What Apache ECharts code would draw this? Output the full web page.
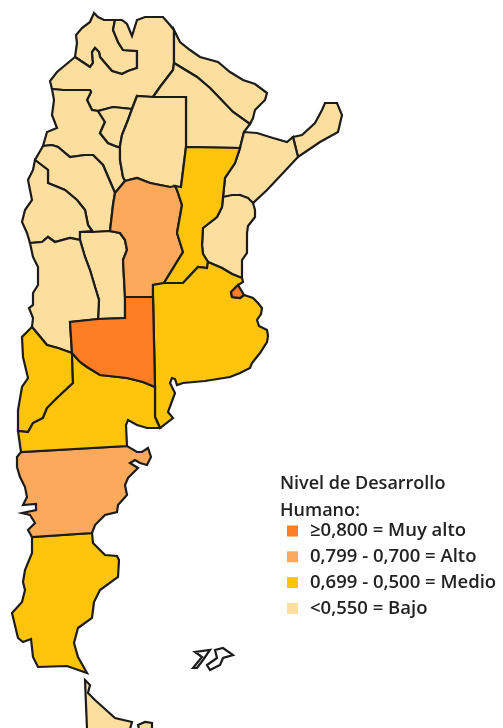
<!DOCTYPE html>
<html lang="es">
<head>
    <meta charset="UTF-8">
    <title>Nivel de Desarrollo Humano</title>
    <script src="https://cdn.jsdelivr.net/npm/echarts@6/dist/echarts.min.js"></script>
    <style>
        html, body { margin: 0; padding: 0; background: #fff; overflow: hidden; }
    </style>
</head>
<body>
<div id="main" style="width:503px;height:728px;"></div>

<script type="text/javascript">
    // niveles de la leyenda
    var niveles = ['≥0,800 = Muy alto', '0,799 - 0,700 = Alto', '0,699 - 0,500 = Medio', '<0,550 = Bajo'];
    var coloresNivel = ['#fc7e24', '#fca95c', '#fcc50b', '#fcde9f'];

    // provincia -> nivel, en el mismo orden
    var provincias = ['Jujuy', 'Salta', 'Formosa', 'Chaco', 'Misiones', 'Corrientes', 'Catamarca', 'Tucumán',
        'Santiago del Estero', 'La Rioja', 'San Juan', 'San Luis', 'Mendoza', 'Entre Ríos', 'Tierra del Fuego',
        'Córdoba', 'Santa Cruz', 'Chubut', 'Santa Fe', 'Buenos Aires', 'Neuquén', 'Río Negro', 'La Pampa', 'CABA'];
    var nivelProvincia = [3, 3, 3, 3, 3, 3, 3, 3,
        3, 3, 3, 3, 3, 3, 3,
        1, 2, 1, 2, 2, 2, 2, 0, 0];

    // contornos calcados del mapa
    var contornos = {
        'Jujuy': [[[94,13],[98,17],[104,20],[115,20],[113,30],[118,42],[123,50],[137,51],[137,68],[128,71],[122,74],[112,71],[105,63],[100,57],[99,52],[95,48],[92,52],[93,63],[90,67],[75,57],[77,43],[76,35],[82,28],[90,22]]],
        'Salta': [[[75,57],[90,67],[93,63],[92,52],[95,48],[99,52],[100,57],[105,63],[112,71],[122,74],[128,71],[137,68],[137,51],[123,50],[118,42],[113,30],[115,20],[122,20],[127,24],[132,36],[137,20],[145,17],[163,17],[170,25],[174,30],[174,63],[173,70],[160,87],[153,97],[137,96],[132,109],[113,107],[98,111],[92,110],[87,100],[91,92],[90,90],[63,90],[52,89],[50,81],[57,72]]],
        'Formosa': [[[174,30],[180,42],[190,50],[200,57],[218,62],[230,72],[243,80],[255,84],[267,93],[265,100],[255,110],[253,118],[250,124],[233,112],[210,88],[197,77],[174,63]]],
        'Chaco': [[[174,63],[197,77],[210,88],[233,112],[250,124],[244,132],[240,148],[186,147],[186,97],[153,97],[160,87],[173,70]]],
        'Misiones': [[[293,137],[302,135],[315,123],[322,110],[325,103],[337,103],[342,115],[338,132],[320,142],[298,157]]],
        'Corrientes': [[[244,132],[257,133],[273,138],[287,142],[293,137],[298,157],[283,173],[267,190],[253,203],[240,195],[223,197],[225,178],[235,163],[240,148]]],
        'Catamarca': [[[52,89],[63,90],[90,90],[91,92],[87,100],[92,110],[98,111],[105,122],[100,133],[108,143],[118,147],[120,146],[120,160],[123,177],[125,181],[115,193],[103,165],[93,155],[85,155],[70,157],[58,147],[52,145],[43,146],[47,132],[57,128],[52,115],[54,100]]],
        'Tucumán': [[[132,109],[113,107],[98,111],[105,122],[100,133],[108,143],[118,147],[120,146],[122,135],[128,120]]],
        'Santiago del Estero': [[[137,96],[153,97],[186,97],[186,147],[181,187],[170,187],[150,183],[137,178],[125,181],[123,177],[120,160],[120,146],[122,135],[128,120],[132,109]]],
        'La Rioja': [[[43,146],[52,145],[58,147],[70,157],[85,155],[93,155],[103,165],[115,193],[113,205],[110,231],[93,232],[92,231],[88,225],[85,210],[77,200],[65,190],[48,183],[48,170],[35,160]]],
        'San Juan': [[[35,160],[48,170],[48,183],[65,190],[77,200],[85,210],[88,225],[92,231],[93,232],[80,232],[80,240],[70,238],[55,242],[48,237],[42,242],[30,243],[27,233],[22,222],[25,210],[32,200],[28,180],[33,170]]],
        'San Luis': [[[80,232],[93,232],[110,231],[120,233],[125,240],[127,250],[123,260],[125,297],[125,318],[98,319],[99,300],[95,287],[90,270],[85,257],[80,240]]],
        'Mendoza': [[[30,243],[42,242],[48,237],[55,242],[70,238],[80,240],[85,257],[90,270],[95,287],[99,300],[98,319],[70,322],[72,353],[58,348],[47,345],[37,333],[32,327],[33,318],[29,308],[33,305],[33,293],[38,285],[38,267],[33,257]]],
        'Entre Ríos': [[[223,197],[232,195],[240,195],[248,198],[253,203],[255,210],[255,217],[248,226],[247,233],[247,253],[242,260],[242,278],[232,274],[222,268],[208,262],[203,254],[202,245],[203,228],[217,217],[222,207]]],
        'Tierra del Fuego': [[[85,680],[90,685],[88,693],[95,700],[115,718],[132,722],[130,729],[87,729]], [[138,725],[145,722],[152,723],[152,729],[139,729]]],
        'Córdoba': [[[125,181],[137,178],[150,183],[170,187],[175,186],[177,190],[182,205],[177,233],[183,252],[164,283],[153,285],[153,297],[125,297],[123,260],[127,250],[125,240],[120,233],[110,231],[113,205],[115,193]]],
        'Santa Cruz': [[[32,537],[92,533],[93,543],[105,555],[117,556],[119,560],[118,577],[100,590],[94,602],[92,618],[78,628],[74,643],[78,657],[87,673],[67,666],[38,667],[33,657],[31,639],[23,642],[18,638],[12,613],[22,602],[25,590],[23,582],[25,570],[32,553]]],
        'Chubut': [[[21,452],[127,446],[137,452],[142,452],[148,448],[151,457],[147,465],[140,463],[135,460],[130,463],[138,468],[128,478],[125,485],[127,495],[118,505],[117,512],[105,515],[95,525],[92,533],[32,537],[28,530],[35,523],[30,515],[22,513],[36,510],[36,504],[23,505],[27,497],[25,487],[20,477],[17,467],[17,457]]],
        'Santa Fe': [[[186,147],[240,148],[235,163],[225,178],[223,197],[222,207],[217,217],[203,228],[202,245],[203,254],[208,262],[207,268],[198,267],[183,283],[164,283],[183,252],[177,233],[182,205],[177,190],[175,186],[181,187]]],
        'Buenos Aires': [[[153,285],[164,283],[183,283],[198,267],[207,268],[208,262],[222,268],[232,274],[242,278],[243,282],[238,285],[231,292],[232,297],[240,298],[244,295],[253,298],[258,303],[262,308],[261,314],[257,320],[259,326],[267,330],[268,336],[267,342],[260,353],[252,363],[250,368],[240,373],[230,377],[205,381],[183,383],[177,385],[175,379],[172,378],[170,383],[175,393],[168,412],[173,418],[160,428],[155,417],[155,387],[153,297]]],
        'Neuquén': [[[32,327],[37,333],[47,345],[58,348],[72,353],[73,383],[57,398],[47,408],[43,418],[33,423],[28,432],[18,431],[18,422],[18,410],[22,387],[28,378],[23,357],[22,337]]],
        'Río Negro': [[[72,353],[80,362],[87,367],[100,375],[127,378],[143,382],[155,387],[155,417],[160,428],[147,428],[137,425],[128,420],[126,425],[127,446],[21,452],[18,431],[28,432],[33,423],[43,418],[47,408],[57,398],[73,383]]],
        'La Pampa': [[[70,322],[98,319],[125,318],[125,297],[153,297],[155,387],[143,382],[127,378],[100,375],[87,367],[80,362],[72,353]]],
        'CABA': [[[238,285],[231,292],[232,297],[240,298],[244,295]]],
        'Islas Malvinas': [[[193,668],[202,657],[195,652],[210,650],[203,660],[197,668]], [[207,665],[217,658],[215,650],[223,648],[233,655],[223,658],[220,665],[210,670]]]
    };

    // y de pantalla -> y de mapa (echarts invierte la latitud)
    var features = Object.keys(contornos).map(function (nombre) {
        return {
            type: 'Feature',
            properties: { name: nombre },
            geometry: {
                type: 'MultiPolygon',
                coordinates: contornos[nombre].map(function (anillo) {
                    return [anillo.map(function (p) { return [p[0], -p[1]]; })];
                })
            }
        };
    });
    echarts.registerMap('argentina', { type: 'FeatureCollection', features: features });

    var myChart = echarts.init(document.getElementById('main'));
    var fuente = '"Open Sans", sans-serif';

    var option = {
        animation: false,
        title: {
            text: 'Nivel de Desarrollo\nHumano:',
            left: 280,
            top: 470,
            padding: 0,
            textStyle: { fontFamily: fuente, fontSize: 18, fontWeight: 600, color: '#222', lineHeight: 27 }
        },
        visualMap: {
            type: 'piecewise',
            seriesIndex: 0,
            left: 287,
            top: 521.5,
            padding: 0,
            align: 'left',
            inverse: true,
            itemWidth: 11,
            itemHeight: 11,
            itemGap: 6.8,
            textGap: 12,
            itemSymbol: 'rect',
            selectedMode: false,
            hoverLink: false,
            textStyle: { fontFamily: fuente, fontSize: 18.5, fontWeight: 600, color: '#222' },
            pieces: niveles.map(function (n, i) {
                return { value: i, label: n, color: coloresNivel[i] };
            })
        },
        series: [{
            type: 'map',
            map: 'argentina',
            aspectScale: 1,
            left: 12,
            top: 13,
            width: 330,
            height: 716,
            silent: true,
            selectedMode: false,
            label: { show: false },
            itemStyle: { areaColor: '#ffffff', borderColor: '#1c1c1c', borderWidth: 2.2 },
            data: provincias.map(function (p, i) {
                return { name: p, value: nivelProvincia[i] };
            })
        }]
    };
    myChart.setOption(option);
</script>
</body>
</html>
